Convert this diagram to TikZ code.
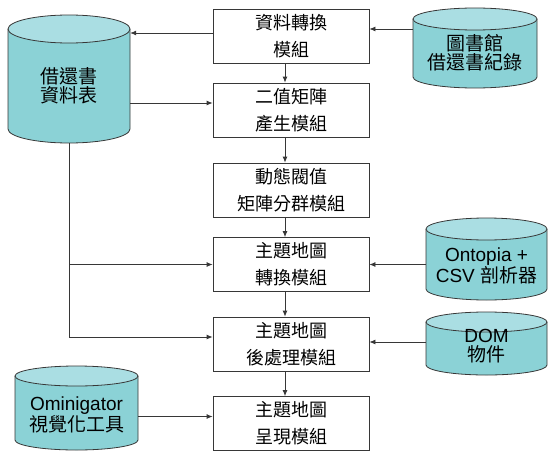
\documentclass[tikz,border=0pt]{standalone}
\usepackage{fontspec}
\setmainfont{Liberation Sans}
\newfontfamily\cjk{Noto Sans CJK TC}
\newfontfamily\lat{Liberation Sans}
\usetikzlibrary{arrows.meta}

\definecolor{cylbody}{RGB}{139,210,214}
\definecolor{cyltop}{RGB}{170,222,227}
\definecolor{linegray}{RGB}{55,55,55}

% database drum: #1 name, #2 centre x, #3 top y, #4 bottom y, #5 x radius, #6 y radius
\newcommand\dbdrum[6]{%
  \fill[cylbody] (#2-#5,#3-#6) -- (#2-#5,#4+#6)
    arc[start angle=180,end angle=360,x radius=#5,y radius=#6] -- (#2+#5,#3-#6) -- cycle;
  \draw[cylline] (#2-#5,#3-#6) -- (#2-#5,#4+#6)
    arc[start angle=180,end angle=360,x radius=#5,y radius=#6] -- (#2+#5,#3-#6);
  \filldraw[cylline,fill=cyltop] (#2,#3-#6) ellipse[x radius=#5,y radius=#6];
  \node[inner sep=0pt,minimum width=2*#5,minimum height=#3-#4] (#1) at (#2,{(#3+#4)/2}) {};
}

\begin{document}
\begin{tikzpicture}[x=1pt,y=1pt,
  module/.style={draw=linegray,line width=0.8pt,fill=white,minimum width=156pt,minimum height=54pt,
    inner sep=0pt,align=center,font=\cjk\fontsize{18}{27}\selectfont},
  drumtext/.style={inner sep=0pt,align=center,font=\fontsize{19}{19}\selectfont},
  cylline/.style={draw=linegray,line width=0.8pt},
  arr/.style={draw=linegray,line width=0.8pt,-{Latex[length=6pt,width=5pt]}},
  wire/.style={draw=linegray,line width=0.8pt}]
\useasboundingbox (0,0) rectangle (548,451);

% processing modules
\node[module] (b1) at (291,415)   {資料轉換\\模組};
\node[module] (b2) at (291,341)   {二值矩陣\\產生模組};
\node[module] (b3) at (291,261)   {動態閥值\\矩陣分群模組};
\node[module] (b4) at (291,186.5) {主題地圖\\轉換模組};
\node[module] (b5) at (291,107)   {主題地圖\\後處理模組};
\node[module] (b6) at (291,27.5)  {主題地圖\\呈現模組};

% data stores and tools
\dbdrum{c1}{69}{436}{308}{61}{14}
\node[drumtext] (t1) at (69,365) {\cjk 借還書\\\cjk 資料表};
\dbdrum{c2}{475}{443}{363}{62}{11}
\node[drumtext] (t2) at (475,398) {\cjk 圖書館\\\cjk 借還書紀錄};
\dbdrum{c3}{486.5}{233}{151}{60.5}{11}
\node[drumtext] (t3) at (486.5,185) {Ontopia +\\CSV {\cjk 剖析器}};
\dbdrum{c4}{486.5}{139}{76}{60.5}{10}
\node[drumtext] (t4) at (486.5,105) {DOM\\\cjk 物件};
\dbdrum{c5}{76.5}{85}{1}{61.5}{10}
\node[drumtext] (t5) at (76.5,36.5) {Ominigator\\\cjk 視覺化工具};

% main processing chain
\draw[arr] ([xshift=-6pt]b1.south) -- ([xshift=-6pt]b2.north);
\draw[arr] ([xshift=-6pt]b2.south) -- ([xshift=-6pt]b3.north);
\draw[arr] ([xshift=-6pt]b3.south) -- ([xshift=-6pt]b4.north);
\draw[arr] ([xshift=-6pt]b4.south) -- ([xshift=-6pt]b5.north);
\draw[arr] ([xshift=-6pt]b5.south) -- ([xshift=-6pt]b6.north);

% data flows
\draw[arr] ([yshift=7pt]b1.east -| c2.west) -- ([yshift=7pt]b1.east);
\draw[arr] ([yshift=3pt]b1.west) -- ([yshift=3pt]b1.west -| c1.east);
\draw[arr] ([yshift=7pt]b2.west -| c1.east) -- ([yshift=7pt]b2.west);
\draw[wire] (c1.south) -- (c1.south |- b4.west);
\draw[arr] (c1.south |- b4.west) -- (b4.west);
\draw[arr] (c1.south |- b4.west) |- ([yshift=7pt]b5.west);
\draw[arr] (b4.east -| c3.west) -- (b4.east);
\draw[arr] ([yshift=2pt]b5.east -| c4.west) -- ([yshift=2pt]b5.east);
\draw[arr] ([yshift=7pt]b6.west -| c5.east) -- ([yshift=7pt]b6.west);
\end{tikzpicture}
\end{document}
